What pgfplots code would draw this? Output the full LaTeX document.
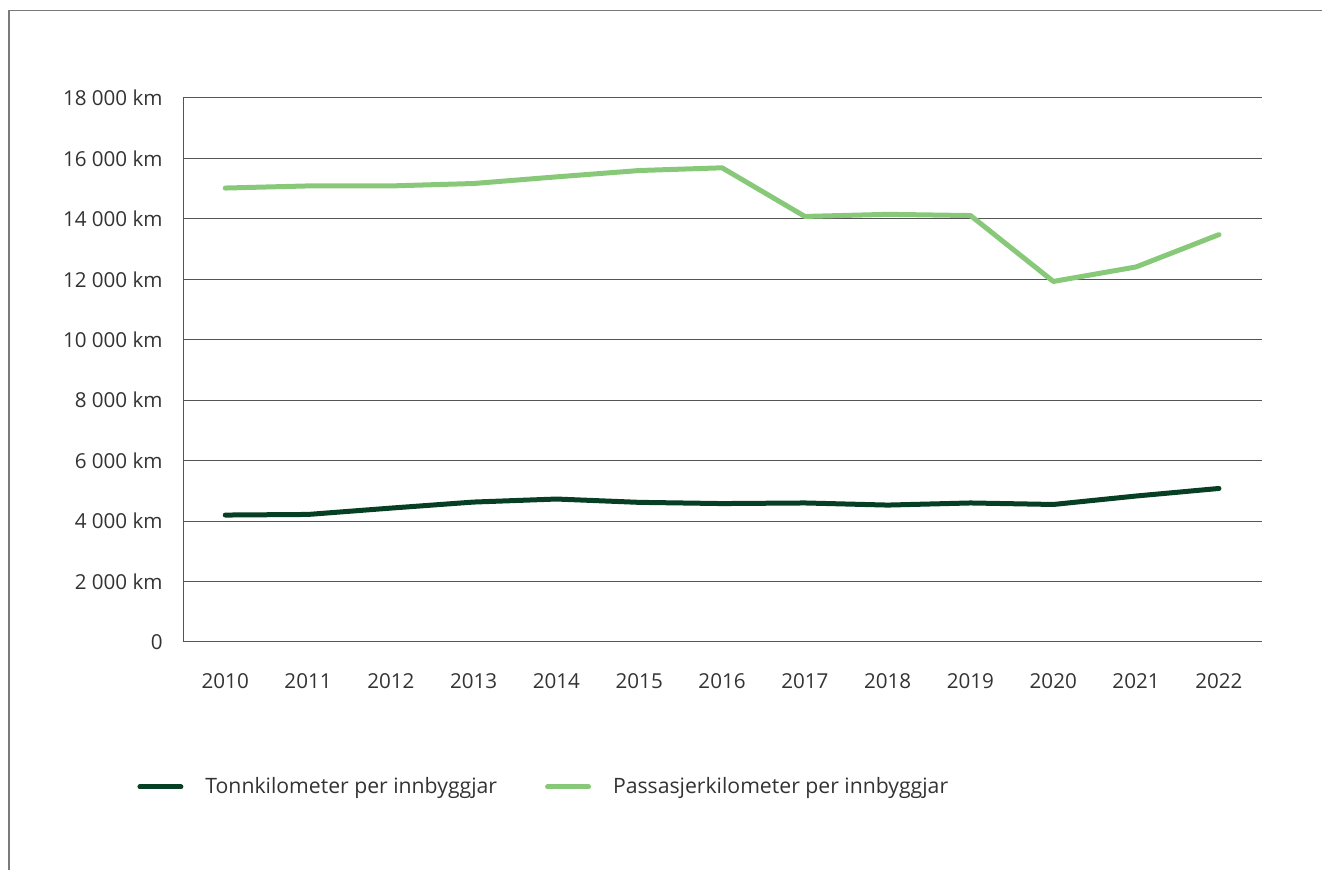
\documentclass[border=0pt]{standalone}
\usepackage{pgfplots}
\pgfplotsset{compat=1.18}
\usepackage{fontspec}
\setmainfont{Open Sans}
\definecolor{darkgr}{HTML}{073F24}
\definecolor{lightgr}{HTML}{88C979}
\definecolor{txt}{HTML}{333333}
\definecolor{gridc}{HTML}{555555}
\definecolor{framec}{HTML}{7A7A7A}
\begin{document}
\begin{tikzpicture}[font=\fontsize{10.3}{12}\selectfont]
\useasboundingbox (0,0) rectangle (661pt,435pt);
\draw[framec, line width=0.6pt] (4.5pt,0) -- (4.5pt,429.75pt) -- (661pt,429.75pt);
\begin{axis}[
  at={(91.5pt,114pt)}, anchor=south west,
  scale only axis, width=539.5pt, height=272pt,
  xmin=2009.49, xmax=2022.52, ymin=0, ymax=18000,
  axis x line*=bottom, axis y line*=left,
  axis line style={-, gridc, line width=0.5pt},
  scaled y ticks=false, scaled x ticks=false,
  xtick={2010,...,2022},
  xticklabels={2010,2011,2012,2013,2014,2015,2016,2017,2018,2019,2020,2021,2022},
  ytick={0,2000,...,18000},
  yticklabels={0,2 000 km,4 000 km,6 000 km,8 000 km,10 000 km,12 000 km,14 000 km,16 000 km,18 000 km},
  major tick length=0pt,
  ymajorgrids, grid style={gridc, line width=0.5pt},
  tick label style={txt},
  yticklabel style={anchor=east, inner sep=0pt, xshift=-10pt},
  xticklabel style={anchor=north, inner sep=0pt, yshift=-15.5pt},
  legend columns=2,
  legend style={draw=none, at={(-0.0426,-0.2665)}, anchor=west, inner sep=0pt,
    font=\fontsize{10.6}{12}\selectfont,
    nodes={inner sep=0pt, text=txt},
    /tikz/every odd column/.append style={column sep=11pt},
    /tikz/every even column/.append style={column sep=24pt}},
  legend cell align=left,
  legend image code/.code={\draw[#1, line cap=round] (1.25pt,0pt) -- (21.75pt,0pt);},
]
\addplot[darkgr, line width=2.5pt, line join=round, line cap=round] coordinates {
(2010,4200) (2011,4220) (2012,4430) (2013,4630) (2014,4730) (2015,4620) (2016,4580)
(2017,4600) (2018,4530) (2019,4600) (2020,4550) (2021,4830) (2022,5080)};
\addlegendentry{Tonnkilometer per innbyggjar}
\addplot[lightgr, line width=2.5pt, line join=round, line cap=round] coordinates {
(2010,15020) (2011,15090) (2012,15090) (2013,15170) (2014,15390) (2015,15600) (2016,15690)
(2017,14080) (2018,14150) (2019,14110) (2020,11930) (2021,12410) (2022,13480)};
\addlegendentry{Passasjerkilometer per innbyggjar}
\end{axis}
\end{tikzpicture}
\end{document}
